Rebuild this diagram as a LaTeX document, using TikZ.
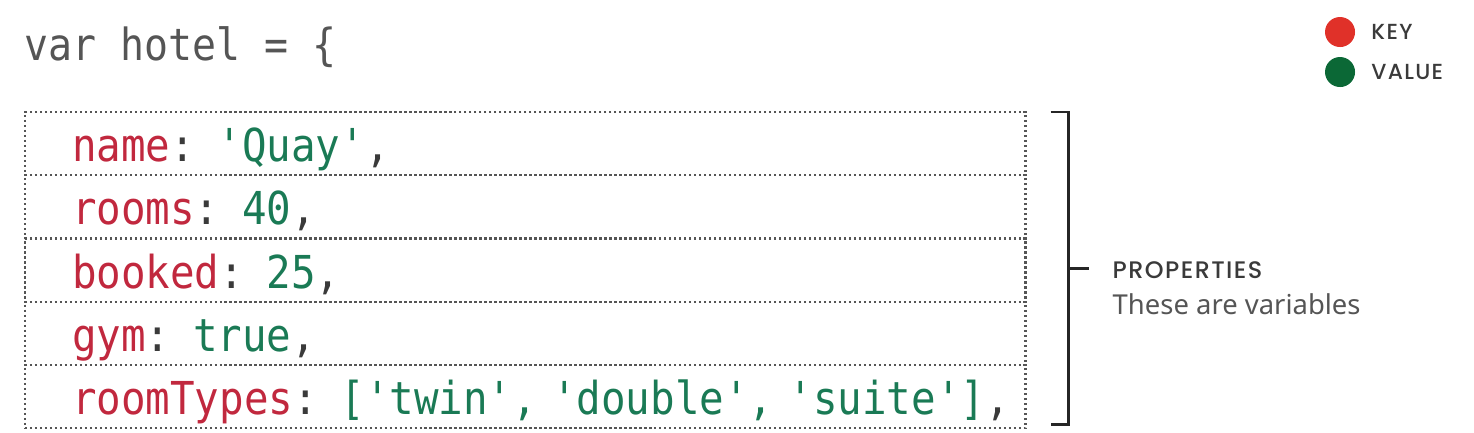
\documentclass[tikz,border=0pt]{standalone}
\usepackage{fontspec}
\setmonofont{DejaVu Sans Mono}[FakeStretch=0.9]
\newfontfamily\capsfont{Poppins}[UprightFont=* Medium, LetterSpace=6]
\newfontfamily\notefont{Noto Sans}
\usetikzlibrary{positioning,calc}

\definecolor{keyred}{HTML}{C1283E}
\definecolor{valgreen}{HTML}{1A7A55}
\definecolor{dotred}{HTML}{E03129}
\definecolor{dotgreen}{HTML}{0B6836}
\definecolor{punctgrey}{HTML}{3A3A3A}
\definecolor{titlegrey}{HTML}{555555}
\definecolor{linegrey}{HTML}{555555}

\newcommand{\keytext}[1]{\textcolor{keyred}{#1}}
\newcommand{\valtext}[1]{\textcolor{valgreen}{#1}}

\begin{document}
\begin{tikzpicture}[x=0.01cm,y=-0.01cm,
    code/.style={font=\ttfamily\fontsize{12.6}{14}\selectfont},
    row/.style={font=\ttfamily\fontsize{12.9}{14}\selectfont, draw=linegrey, line width=0.65pt,
        dash pattern=on 0.65pt off 0.77pt,
        outer sep=0pt, inner xsep=0pt, inner ysep=0pt, text width=10cm, align=left,
        execute at begin node={\hspace*{0.47cm}},
        text height=0.496cm, text depth=0.136cm, text=punctgrey},
    dot/.style={circle, minimum size=0.3cm, inner sep=0pt},
    legend/.style={font=\capsfont\fontsize{6.2}{7}\selectfont, text=punctgrey, inner sep=0pt},
    bracket/.style={draw=black!85, line width=0.8pt}]

    \useasboundingbox (0,0) rectangle (1474,432);

    % object name
    \node[code, text=titlegrey, anchor=base west, inner sep=0pt] (title) at (24,60) {var hotel = \{};

    % legend
    \node[dot, fill=dotred] (keydot) at (1340,32) {};
    \node[dot, fill=dotgreen] (valdot) at (1340,72) {};
    \node[legend, right=0.15cm of keydot] (keylabel) {KEY};
    \node[legend, right=0.15cm of valdot] (vallabel) {VALUE};

    % properties
    \node[row, anchor=north west] (name) at (25,112) {\keytext{name}: \valtext{'Quay'},};
    \node[row, below=0pt of name] (rooms) {\keytext{rooms}: \valtext{40},};
    \node[row, below=0pt of rooms] (booked) {\keytext{booked}: \valtext{25},};
    \node[row, below=0pt of booked] (gym) {\keytext{gym}: \valtext{true},};
    \node[row, below=0pt of gym] (types) {\keytext{roomTypes}: \valtext{['twin', 'double', 'suite']},};

    % bracket
    \coordinate (brtop) at ([xshift=0.43cm]name.north east);
    \coordinate (brbot) at ([xshift=0.43cm, yshift=0.04cm]types.south east);
    \coordinate (brmid) at ($(brtop)!0.5!(brbot)$);
    \draw[bracket] ([xshift=-0.18cm]brtop) -- (brtop) -- (brbot) -- ([xshift=-0.18cm]brbot);
    \draw[bracket] (brmid) -- ([xshift=0.2cm]brmid);

    \node[anchor=base west, inner sep=0pt, font=\capsfont\fontsize{6.8}{8}\selectfont, text=punctgrey]
        (props) at (1112,278) {PROPERTIES};
    \node[anchor=base west, inner sep=0pt, font=\notefont\fontsize{7.8}{9}\selectfont, text=titlegrey]
        (propsnote) at (1112,314) {These are variables};

\end{tikzpicture}
\end{document}
